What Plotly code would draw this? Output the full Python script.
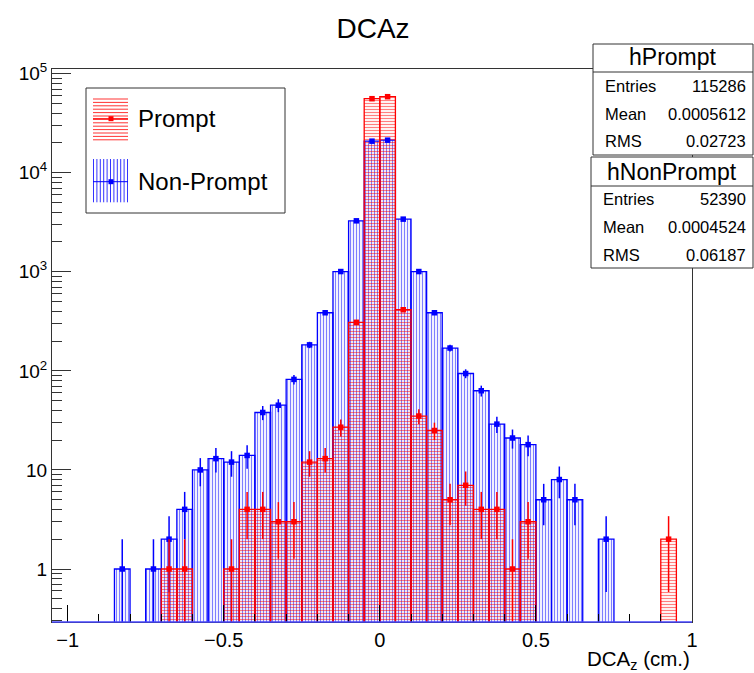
import plotly.graph_objects as go
import math

# ---------------- data ----------------
bin_centers = [-1.025, -0.975, -0.925, -0.875, -0.825, -0.775, -0.725, -0.675, -0.625, -0.575,
               -0.525, -0.475, -0.425, -0.375, -0.325, -0.275, -0.225, -0.175, -0.125, -0.075,
               -0.025, 0.025, 0.075, 0.125, 0.175, 0.225, 0.275, 0.325, 0.375, 0.425,
               0.475, 0.525, 0.575, 0.625, 0.675, 0.725, 0.775, 0.825, 0.875, 0.925, 0.975]
bin_width = 0.05

nonprompt_counts = [0, 0, 0, 0, 1, 0, 1, 2, 4, 10,
                    13, 12, 14, 38, 45, 82, 183, 386, 1006, 3270,
                    20820, 21300, 3400, 1006, 386, 170, 94, 63, 29, 21,
                    18, 5, 8, 5, 0, 2, 0, 0, 0, 0, 0]
prompt_counts = [0, 0, 0, 0, 0, 0, 0, 1, 1, 0,
                 0, 1, 4, 4, 3, 3, 12, 13, 27, 309,
                 55880, 58530, 414, 35, 25, 5, 7, 4, 4, 1,
                 3, 0, 0, 0, 0, 0, 0, 0, 0, 2, 0]

x_tick_vals = [-1, -0.5, 0, 0.5, 1]
x_tick_text = ["\u22121", "\u22120.5", "0", "0.5", "1"]
y_tick_vals = [1, 10, 100, 1000, 10000, 100000]
y_tick_text = ["1", "10", "10<sup>2</sup>", "10<sup>3</sup>", "10<sup>4</sup>", "10<sup>5</sup>"]

stats_prompt = [("Entries", "115286"), ("Mean", "0.0005612"), ("RMS", "0.02723")]
stats_nonprompt = [("Entries", "52390"), ("Mean", "0.0004524"), ("RMS", "0.06187")]

# ---------------- helpers ----------------
W, H = 754, 673
L, R, T, B = 52, 692, 69, 622
FONT = "Liberation Sans, Arial, Helvetica, sans-serif"


def px(xp):
    return (xp - L) / (R - L)


def py(yp):
    return (B - yp) / (B - T)


def nz(vals):
    return [v if v > 0 else None for v in vals]


def errs(vals):
    return [math.sqrt(v) if v > 0 else None for v in vals]


fig = go.Figure()

# Non-prompt histogram (blue, vertical hatch)
fig.add_trace(go.Bar(
    x=bin_centers, y=nz(nonprompt_counts), width=bin_width,
    marker=dict(color="rgba(0,0,0,0)",
                line=dict(color="blue", width=1.3),
                pattern=dict(shape="|", size=3, solidity=0.4, fgcolor="blue",
                             bgcolor="rgba(0,0,0,0)", fillmode="overlay")),
    showlegend=False, hoverinfo="skip"))

# Prompt histogram (red, horizontal hatch)
fig.add_trace(go.Bar(
    x=bin_centers, y=nz(prompt_counts), width=bin_width,
    marker=dict(color="rgba(0,0,0,0)",
                line=dict(color="red", width=1.3),
                pattern=dict(shape="-", size=3, solidity=0.4, fgcolor="red",
                             bgcolor="rgba(0,0,0,0)", fillmode="overlay")),
    showlegend=False, hoverinfo="skip"))

# error bars + markers
fig.add_trace(go.Scatter(
    x=bin_centers, y=nz(nonprompt_counts), mode="markers",
    marker=dict(symbol="square", size=5.5, color="blue"),
    error_y=dict(type="data", array=errs(nonprompt_counts), color="blue", thickness=1.5, width=0),
    showlegend=False, hoverinfo="skip"))
fig.add_trace(go.Scatter(
    x=bin_centers, y=nz(prompt_counts), mode="markers",
    marker=dict(symbol="square", size=5.5, color="red"),
    error_y=dict(type="data", array=errs(prompt_counts), color="red", thickness=1.5, width=0),
    showlegend=False, hoverinfo="skip"))

# ---------------- axes ----------------
y_minor = []
for k in range(-1, 6):
    for m in range(2, 10):
        v = m * 10 ** k
        if 0.29 < v < 1.1e5:
            y_minor.append(v)

x_minor = [-1.0 + 0.1 * i for i in range(21)]
x_minor = [round(v, 2) for v in x_minor if round(v, 2) not in x_tick_vals]

fig.update_xaxes(
    range=[-1.05, 1.0], showgrid=False, zeroline=False,
    showline=True, mirror=True, linecolor="#333333", linewidth=1,
    tickmode="array", tickvals=x_tick_vals, ticktext=x_tick_text,
    ticks="inside", ticklen=17, tickcolor="black", tickwidth=1,
    minor=dict(tickmode="array", tickvals=x_minor, ticks="inside", ticklen=8,
               tickcolor="black", tickwidth=1, showgrid=False),
    tickfont=dict(family=FONT, size=20, color="black"))

fig.update_yaxes(
    type="log", range=[-0.535, 5.047], showgrid=False, zeroline=False,
    showline=True, mirror=True, linecolor="#333333", linewidth=1,
    tickmode="array", tickvals=y_tick_vals, ticktext=y_tick_text,
    ticks="inside", ticklen=19, tickcolor="#333333", tickwidth=1,
    minor=dict(tickmode="array", tickvals=y_minor, ticks="inside", ticklen=10,
               tickcolor="#333333", tickwidth=1, showgrid=False),
    tickfont=dict(family=FONT, size=19, color="black"))

shapes = []
annotations = []

# blue baseline along the bottom of the frame
shapes.append(dict(type="line", xref="paper", yref="paper", x0=0, x1=1, y0=0, y1=0,
                   line=dict(color="rgba(70,70,255,1)", width=1.5), layer="above"))

# ---------------- legend ----------------
shapes.append(dict(type="rect", xref="paper", yref="paper",
                   x0=px(86), x1=px(285), y0=py(213), y1=py(88),
                   line=dict(color="#333333", width=1), fillcolor="white", layer="above"))
# prompt swatch (horizontal hatch)
yy = 99.0
while yy <= 140:
    shapes.append(dict(type="line", xref="paper", yref="paper", x0=px(93), x1=px(128),
                       y0=py(yy), y1=py(yy), line=dict(color="rgba(255,0,0,0.8)", width=1),
                       layer="above"))
    yy += 3.4
shapes.append(dict(type="line", xref="paper", yref="paper", x0=px(93), x1=px(128),
                   y0=py(118.7), y1=py(118.7), line=dict(color="red", width=1), layer="above"))
shapes.append(dict(type="rect", xref="paper", yref="paper", x0=px(108.5), x1=px(113.5),
                   y0=py(121.2), y1=py(116.2), line=dict(width=0), fillcolor="red", layer="above"))
# non-prompt swatch (vertical hatch)
xx = 93.5
while xx <= 128.5:
    shapes.append(dict(type="line", xref="paper", yref="paper", x0=px(xx), x1=px(xx),
                       y0=py(202.3), y1=py(159), line=dict(color="rgba(0,0,255,0.8)", width=1),
                       layer="above"))
    xx += 3.4
shapes.append(dict(type="line", xref="paper", yref="paper", x0=px(93), x1=px(128),
                   y0=py(181.7), y1=py(181.7), line=dict(color="blue", width=1), layer="above"))
shapes.append(dict(type="rect", xref="paper", yref="paper", x0=px(108.5), x1=px(113.5),
                   y0=py(184.2), y1=py(179.2), line=dict(width=0), fillcolor="blue", layer="above"))

annotations.append(dict(text="Prompt", xref="paper", yref="paper", x=px(136), y=py(118.3),
                        xanchor="left", yanchor="middle", showarrow=False,
                        font=dict(family=FONT, size=24, color="black")))
annotations.append(dict(text="Non-Prompt", xref="paper", yref="paper", x=px(136), y=py(181.7),
                        xanchor="left", yanchor="middle", showarrow=False,
                        font=dict(family=FONT, size=24, color="black")))

# ---------------- stats boxes ----------------
def stats_box(name, rows, x0, x1, y0, ysep, y1, yhead, yrows):
    shapes.append(dict(type="rect", xref="paper", yref="paper",
                       x0=px(x0), x1=px(x1), y0=py(y1), y1=py(y0),
                       line=dict(color="#333333", width=1), fillcolor="white", layer="above"))
    shapes.append(dict(type="line", xref="paper", yref="paper",
                       x0=px(x0), x1=px(x1), y0=py(ysep), y1=py(ysep),
                       line=dict(color="#333333", width=1), layer="above"))
    annotations.append(dict(text=name, xref="paper", yref="paper", x=px((x0 + x1) / 2), y=py(yhead),
                            xanchor="center", yanchor="middle", showarrow=False,
                            font=dict(family=FONT, size=23, color="black")))
    for (lab, val), yr in zip(rows, yrows):
        annotations.append(dict(text=lab, xref="paper", yref="paper", x=px(x0 + 10), y=py(yr),
                                xanchor="left", yanchor="middle", showarrow=False,
                                font=dict(family=FONT, size=16.5, color="black")))
        annotations.append(dict(text=val, xref="paper", yref="paper", x=px(x1 - 5), y=py(yr),
                                xanchor="right", yanchor="middle", showarrow=False,
                                font=dict(family=FONT, size=16.5, color="black")))


stats_box("hPrompt", stats_prompt, 593, 753, 44, 72, 155, 57, [86, 114, 141])
stats_box("hNonPrompt", stats_nonprompt, 591, 753, 157, 186, 268, 172, [199, 227, 255])

# x-axis title
annotations.append(dict(text="DCA<sub>z</sub> (cm.)", xref="paper", yref="paper",
                        x=px(692), y=py(660), xanchor="right", yanchor="middle", showarrow=False,
                        font=dict(family=FONT, size=20.5, color="black")))

fig.update_layout(
    width=W, height=H,
    margin=dict(l=L, r=W - R, t=T, b=H - B, pad=0),
    paper_bgcolor="white", plot_bgcolor="white",
    barmode="overlay", showlegend=False,
    title=dict(text="DCAz", x=373 / W, xanchor="center", xref="container",
               y=1 - 28 / H, yanchor="middle", yref="container",
               font=dict(family=FONT, size=28, color="black")),
    shapes=shapes, annotations=annotations)

fig.write_html("out.html", config={"displayModeBar": False},
               post_script="document.body.style.margin='0';document.body.style.padding='0';")
